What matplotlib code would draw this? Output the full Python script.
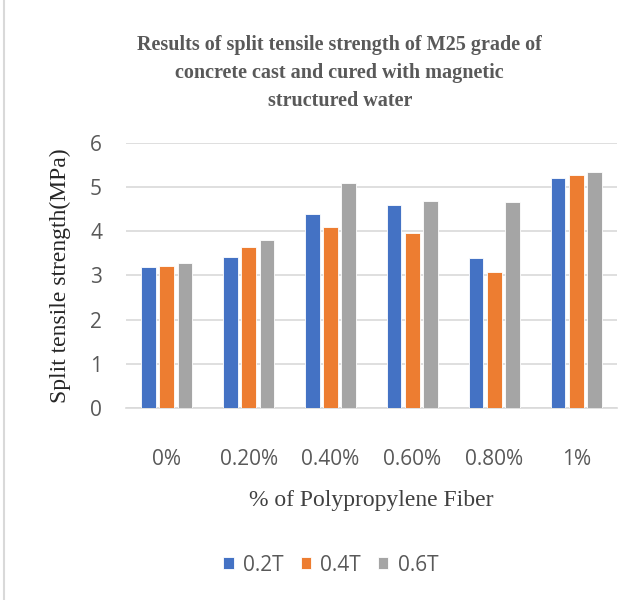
import numpy as np
import matplotlib.pyplot as plt
from matplotlib.patches import Rectangle

categories = ["0%", "0.20%", "0.40%", "0.60%", "0.80%", "1%"]
series_names = ["0.2T", "0.4T", "0.6T"]
t02 = [3.19, 3.41, 4.39, 4.59, 3.40, 5.20]
t04 = [3.22, 3.64, 4.09, 3.96, 3.09, 5.26]
t06 = [3.29, 3.80, 5.09, 4.68, 4.66, 5.33]
colors = ["#4472C4", "#ED7D31", "#A5A5A5"]

fig = plt.figure(figsize=(6.35, 6.0), dpi=100)
ax = fig.add_axes([0.198, 0.3195, 0.774, 0.4427])

x = np.arange(len(categories))
step = 0.224
width = 0.18
for i, (vals, name) in enumerate(zip([t02, t04, t06], series_names)):
    ax.bar(x + (i - 1) * step, vals, width, color=colors[i], label=name,
           edgecolor="white", linewidth=0.6, zorder=3)

ax.set_ylim(0, 6)
ax.set_xlim(-0.5, 5.5)
ax.set_yticks(range(0, 7))
ax.yaxis.grid(True, color="#D9D9D9", linewidth=1.2, zorder=0)
for s in ["top", "right", "left"]:
    ax.spines[s].set_visible(False)
ax.spines["bottom"].set_color("#D9D9D9")
ax.spines["bottom"].set_linewidth(1.2)
ax.tick_params(length=0, labelsize=15, labelcolor="#595959")
ax.tick_params(axis="x", pad=29)
ax.tick_params(axis="y", pad=17)
ax.set_xticks(x)
ax.set_xticklabels(categories)
for lbl in ax.get_xticklabels() + ax.get_yticklabels():
    lbl.set_family("Open Sans")

ax.set_ylabel("Split tensile strength(MPa)", family="Liberation Serif",
              fontsize=17, color="#262626", labelpad=14)
ax.set_xlabel("% of Polypropylene Fiber", family="Liberation Serif",
              fontsize=17, color="#404040", labelpad=15)

fig.text(0.535, 0.878, "Results of split tensile strength of M25 grade of\n"
         "concrete cast and cured with magnetic\nstructured water",
         ha="center", va="center", family="Liberation Serif", weight="bold",
         fontsize=14.5, color="#595959", linespacing=1.55)

fig.legend(loc="center", bbox_to_anchor=(0.521, 0.058), ncol=3, frameon=False,
           prop={"family": "Open Sans", "size": 15}, handlelength=0.5,
           handleheight=0.5, handletextpad=0.45, columnspacing=0.8,
           labelcolor="#595959")

fig.patches.append(Rectangle((0.006, -0.01), 1.2, 1.2, transform=fig.transFigure,
                             fill=False, edgecolor="#D9D9D9", linewidth=1.5))

fig.savefig("out.png", dpi=100, facecolor="white")
